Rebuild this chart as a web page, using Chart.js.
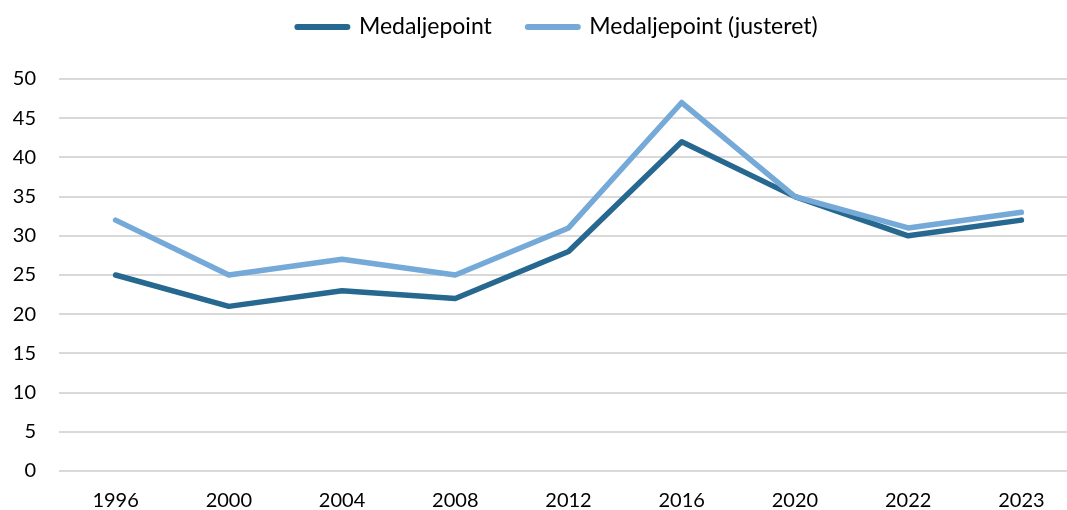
<!DOCTYPE html>
<html>
<head>
<meta charset="utf-8">
<script src="https://cdn.jsdelivr.net/npm/chart.js@4"></script>
<style>
html,body{margin:0;padding:0;background:#fff;overflow:hidden;width:1067px;height:510px;}
#wrap{width:1080px;height:510px;}
</style>
</head>
<body>
<div id="wrap"><canvas id="c" width="1080" height="510"></canvas></div>
<script>
const categories = ['1996','2000','2004','2008','2012','2016','2020','2022','2023'];
const medaljepoint = [25, 21, 23, 22, 28, 42, 35, 30, 32];
const medaljepointJusteret = [32, 25, 27, 25, 31, 47, 35, 31, 33];
const seriesNames = ['Medaljepoint', 'Medaljepoint (justeret)'];
const yTicksMin = 0, yTicksMax = 50, yTicksStep = 5;

const legendTweak = {
  id: 'legendTweak',
  beforeLayout(chart) {
    const lg = chart.legend;
    if (lg && !lg._patched) {
      const orig = lg.fit;
      lg.fit = function () { orig.call(this); this.height = 79; };
      lg._patched = true;
    }
  },
  afterLayout(chart) {
    const lg = chart.legend;
    if (lg) { lg.left += 18.5; lg.right += 18.5; lg.top -= 20.5; lg.bottom -= 20.5; }
  }
};

new Chart(document.getElementById('c'), {
  type: 'line',
  data: {
    labels: categories,
    datasets: [
      {
        label: seriesNames[0],
        data: medaljepoint,
        borderColor: '#276890',
        backgroundColor: '#276890',
        borderWidth: 5.5,
        pointRadius: 0,
        tension: 0,
        borderCapStyle: 'round',
        borderJoinStyle: 'round',
        order: 2
      },
      {
        label: seriesNames[1],
        data: medaljepointJusteret,
        borderColor: '#75A9D7',
        backgroundColor: '#75A9D7',
        borderWidth: 5.5,
        pointRadius: 0,
        tension: 0,
        borderCapStyle: 'round',
        borderJoinStyle: 'round',
        order: 1
      }
    ]
  },
  options: {
    responsive: false,
    animation: false,
    devicePixelRatio: 1,
    layout: { padding: { top: 0, right: 2, left: 0, bottom: 0 } },
    plugins: {
      tooltip: { enabled: false },
      legend: {
        position: 'top',
        labels: {
          font: { family: 'Lato', size: 23 },
          color: '#000',
          usePointStyle: true,
          pointStyle: 'line',
          pointStyleWidth: 50,
          padding: 36,
          generateLabels(chart) {
            return chart.data.datasets.map((ds, i) => ({
              text: ds.label,
              strokeStyle: ds.borderColor,
              fillStyle: ds.borderColor,
              lineWidth: 6,
              lineCap: 'round',
              pointStyle: 'line',
              datasetIndex: i,
              fontColor: '#000'
            }));
          }
        }
      }
    },
    scales: {
      x: {
        type: 'category',
        offset: true,
        grid: { display: false, drawTicks: false },
        border: { display: false },
        ticks: { font: { family: 'Lato', size: 20 }, color: '#000', padding: 18, maxRotation: 0, autoSkip: false },
        afterFit(scale) { scale.height = 39; }
      },
      y: {
        min: yTicksMin,
        max: yTicksMax,
        ticks: { stepSize: yTicksStep, font: { family: 'Lato', size: 20 }, color: '#000', padding: 23 },
        grid: { color: '#D9D9D9', lineWidth: 2, drawTicks: false },
        border: { display: false },
        afterFit(scale) { scale.width = 59; }
      }
    }
  },
  plugins: [legendTweak]
});
</script>
</body>
</html>
